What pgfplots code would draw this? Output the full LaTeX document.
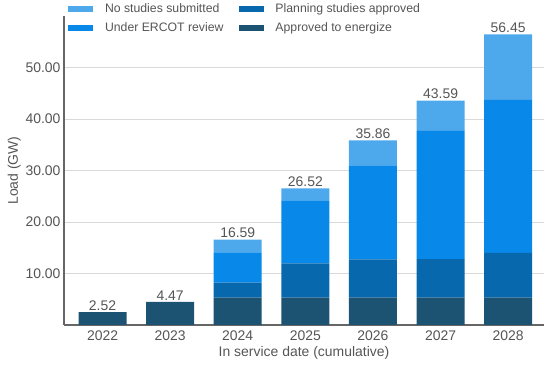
\documentclass[border=0pt]{standalone}
\usepackage{fontspec}
\setmainfont{Liberation Sans}
\usepackage{pgfplots}
\usepackage{pgfplotstable}
\pgfplotsset{compat=1.18}
\definecolor{cNo}{HTML}{4DA9EC}
\definecolor{cRev}{HTML}{0888E8}
\definecolor{cPlan}{HTML}{0868AE}
\definecolor{cApp}{HTML}{1C5272}
\definecolor{cTxt}{HTML}{555555}
\definecolor{cGrid}{HTML}{D9D9D9}
\definecolor{cAxis}{HTML}{666666}
\pgfplotstableread{
x approved planning review nostudies total label
0 2.52 0    0     0     2.52  2.52
1 4.47 0    0     0     4.47  4.47
2 5.33 2.92 5.85  2.49  16.59 16.59
3 5.33 6.63 12.24 2.32  26.52 26.52
4 5.33 7.41 18.26 4.86  35.86 35.86
5 5.33 7.47 24.90 5.89  43.59 43.59
6 5.33 8.67 29.70 12.75 56.45 56.45
}\data
\pgfplotsset{
  common/.style={
    at={(64bp,40bp)}, anchor=south west,
    scale only axis, width=480bp, height=309bp,
    bar width=48bp,
    xmin=-0.57, xmax=6.53, ymin=0, ymax=60,
  }
}
\begin{document}
\begin{tikzpicture}
\path[use as bounding box] (0,0) rectangle (550bp,365bp);
\begin{axis}[
  common,
  ybar stacked,
  xtick={0,...,6}, xticklabels={2022,2023,2024,2025,2026,2027,2028},
  ytick={10,20,30,40,50},
  yticklabel style={/pgf/number format/.cd, fixed, fixed zerofill, precision=2, assume math mode=true},
  major tick length=0pt,
  ymajorgrids, grid style={cGrid, line width=1bp},
  axis x line*=bottom, axis y line*=left,
  axis line style={cAxis, line width=1.5bp, -},
  every axis label/.append style={font=\fontsize{14}{16}\selectfont, text=cTxt},
  tick label style={font=\fontsize{14}{16}\selectfont, text=cTxt},
  xlabel={In service date (cumulative)},
  ylabel={Load (GW)},
  xticklabel style={yshift=-2bp},
  xlabel style={yshift=1bp},
  ylabel style={yshift=-2bp},
  legend style={at={(0.008,1.046)}, anchor=north west, draw=none, fill=none,
    font=\fontsize{12.3}{14}\selectfont, text=cTxt, legend columns=2,
    /tikz/every odd column/.append style={column sep=10bp},
    /tikz/every even column/.append style={column sep=13bp},
    row sep=4.5bp, inner sep=0pt},
  legend cell align=left,
  legend image code/.code={\fill[#1] (0bp,-3bp) rectangle (25bp,3bp);},
]
\addplot[fill=cApp, draw=none, forget plot] table[x=x, y=approved] {\data};
\addplot[fill=cPlan, draw=none, forget plot] table[x=x, y=planning] {\data};
\addplot[fill=cRev, draw=none, forget plot] table[x=x, y=review] {\data};
\addplot[fill=cNo, draw=none, forget plot] table[x=x, y=nostudies] {\data};
\addlegendimage{fill=cNo, draw=none}
\addlegendentry{No studies submitted}
\addlegendimage{fill=cPlan, draw=none}
\addlegendentry{Planning studies approved}
\addlegendimage{fill=cRev, draw=none}
\addlegendentry{Under ERCOT review}
\addlegendimage{fill=cApp, draw=none}
\addlegendentry{Approved to energize}
\end{axis}
\begin{axis}[common, ybar, hide axis]
\addplot[fill=none, draw=none,
  nodes near coords, point meta=explicit symbolic,
  every node near coord/.append style={font=\fontsize{14}{16}\selectfont, text=cTxt, yshift=-2bp}]
  table[x=x, y=total, meta=label] {\data};
\end{axis}
\end{tikzpicture}
\end{document}
